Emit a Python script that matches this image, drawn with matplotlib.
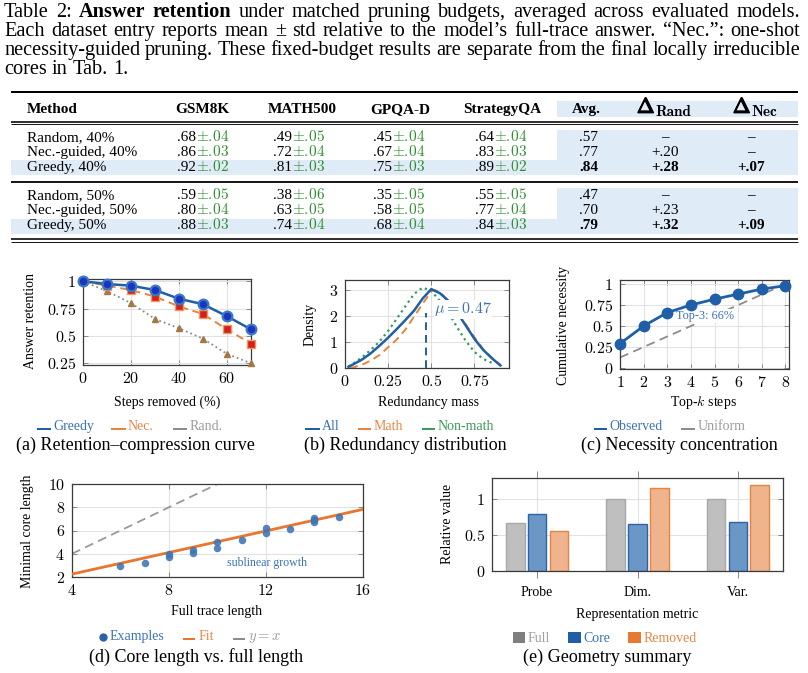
import matplotlib
matplotlib.use('Agg')
import matplotlib.pyplot as plt
from matplotlib.lines import Line2D
from matplotlib.patches import Rectangle
import matplotlib.patheffects as pe

W, H = 808, 673
SERIF = 'Liberation Serif'
plt.rcParams['mathtext.fontset'] = 'cm'
plt.rcParams['font.family'] = [SERIF, 'DejaVu Serif']
plt.rcParams['axes.unicode_minus'] = False

# ---------------- table data ----------------
table_methods = ['Random, 40%', 'Nec.-guided, 40%', 'Greedy, 40%',
                 'Random, 50%', 'Nec.-guided, 50%', 'Greedy, 50%']
table_datasets = ['GSM8K', 'MATH500', 'GPQA-D', 'StrategyQA']
gsm8k_mean = [0.68, 0.86, 0.92, 0.59, 0.80, 0.88]
gsm8k_std = [0.04, 0.03, 0.02, 0.05, 0.04, 0.03]
math500_mean = [0.49, 0.72, 0.81, 0.38, 0.63, 0.74]
math500_std = [0.05, 0.04, 0.03, 0.06, 0.05, 0.04]
gpqa_mean = [0.45, 0.67, 0.75, 0.35, 0.58, 0.68]
gpqa_std = [0.04, 0.04, 0.03, 0.05, 0.05, 0.04]
strategyqa_mean = [0.64, 0.83, 0.89, 0.55, 0.77, 0.84]
strategyqa_std = [0.04, 0.03, 0.02, 0.05, 0.04, 0.03]
avg_vals = [0.57, 0.77, 0.84, 0.47, 0.70, 0.79]
delta_rand = [None, 0.20, 0.28, None, 0.23, 0.32]
delta_nec = [None, None, 0.07, None, None, 0.09]
bold_rows = [False, False, True, False, False, True]

# ---------------- (a) retention curve ----------------
steps_removed = [0, 10, 20, 30, 40, 50, 60, 70]
ret_greedy = [1.00, 0.975, 0.96, 0.92, 0.84, 0.79, 0.68, 0.56]
ret_nec = [1.00, 0.96, 0.92, 0.86, 0.77, 0.70, 0.56, 0.43]
ret_rand = [1.00, 0.91, 0.80, 0.655, 0.57, 0.475, 0.335, 0.25]
a_xticks = [0, 20, 40, 60]
a_yticks = [0.25, 0.5, 0.75, 1.0]
a_yticklabels = ['0.25', '0.5', '0.75', '1']

# ---------------- (b) redundancy distribution ----------------
all_x = [0.02, 0.05, 0.10, 0.15, 0.20, 0.25, 0.30, 0.35, 0.40, 0.45,
         0.50, 0.55, 0.60, 0.65, 0.70, 0.75, 0.80, 0.85, 0.90]
all_y = [0.05, 0.15, 0.33, 0.57, 0.86, 1.17, 1.50, 1.85, 2.21, 2.68,
         3.04, 2.88, 2.58, 2.14, 1.63, 1.12, 0.70, 0.38, 0.10]
math_x = [0.03, 0.05, 0.10, 0.15, 0.20, 0.25, 0.30, 0.35, 0.40, 0.45,
          0.50, 0.52, 0.55, 0.60, 0.65, 0.70, 0.75, 0.80, 0.85, 0.90]
math_y = [0.00, 0.03, 0.13, 0.29, 0.50, 0.80, 1.10, 1.48, 1.98, 2.48,
          2.95, 3.00, 2.92, 2.58, 2.20, 1.68, 1.18, 0.73, 0.40, 0.12]
nonmath_x = [0.02, 0.05, 0.10, 0.15, 0.20, 0.25, 0.30, 0.35, 0.40, 0.45,
             0.50, 0.55, 0.60, 0.65, 0.70, 0.75, 0.80, 0.85]
nonmath_y = [0.05, 0.18, 0.42, 0.70, 1.02, 1.43, 1.90, 2.38, 2.85, 3.10,
             2.97, 2.58, 2.13, 1.56, 1.04, 0.62, 0.35, 0.20]
mu_value = 0.47
mu_line_top = 2.1
b_xticks = [0, 0.25, 0.5, 0.75]
b_xticklabels = ['0', '0.25', '0.5', '0.75']
b_yticks = [0, 1, 2, 3]

# ---------------- (c) necessity concentration ----------------
topk = [1, 2, 3, 4, 5, 6, 7, 8]
cum_observed = [0.29, 0.50, 0.66, 0.75, 0.82, 0.88, 0.94, 0.98]
cum_uniform = [0.125, 0.25, 0.375, 0.50, 0.625, 0.75, 0.875, 1.00]
c_yticks = [0, 0.25, 0.5, 0.75, 1.0]
c_yticklabels = ['0', '0.25', '0.5', '0.75', '1']

# ---------------- (d) core length ----------------
full_len = [6, 7, 8, 8, 9, 9, 10, 10, 11, 12, 12, 13, 14, 14, 14, 15]
core_len = [2.95, 3.2, 4.02, 3.68, 4.31, 4.08, 5.0, 4.5, 5.18, 6.22, 5.81,
            6.1, 7.06, 6.9, 6.71, 7.2]
fit_x = [4, 16]
fit_y = [2.25, 7.82]
ident_x = [4, 10]
ident_y = [4, 10]
d_xticks = [4, 8, 12, 16]
d_yticks = [2, 4, 6, 8, 10]

# ---------------- (e) geometry summary ----------------
geo_metrics = ['Probe', 'Dim.', 'Var.']
geo_full = [0.67, 1.00, 1.00]
geo_core = [0.79, 0.66, 0.69]
geo_removed = [0.555, 1.16, 1.20]
e_yticks = [0, 0.5, 1.0]
e_yticklabels = ['0', '0.5', '1']

# ---------------- colours ----------------
BLUE = '#1f5fa8'
BLUE_T = '#3a72b8'
ORANGE = '#e8843c'
ORANGE_T = '#e8864a'
GRAY = '#8c8c8c'
GRAY_T = '#9b9b9b'
GREEN = '#3a9a5a'
GREEN_T = '#3b9b5b'
TGREEN = '#2f8f2f'
BAND = '#e0ebf8'

fig = plt.figure(figsize=(W / 100, H / 100), dpi=100)
renderer = fig.canvas.get_renderer()


def fx(x):
    return x / W


def fy(y):
    return 1 - y / H


def ftext(x, y, s, **kw):
    kw.setdefault('family', SERIF)
    return fig.text(fx(x), fy(y), s, **kw)


def hline(x0, x1, y, lw_px, color='black'):
    fig.add_artist(Line2D([fx(x0), fx(x1)], [fy(y), fy(y)], transform=fig.transFigure,
                          lw=lw_px / 1.389, color=color, solid_capstyle='butt'))


def rect(x0, y0, x1, y1, color):
    fig.add_artist(Rectangle((fx(x0), fy(y1)), (x1 - x0) / W, (y1 - y0) / H,
                             transform=fig.transFigure, color=color, lw=0, zorder=0))


# ---------------- caption ----------------
def draw_line(tokens, y, x0, x1, size, justify):
    objs = []
    for w, b in tokens:
        objs.append(ftext(0, y, w, fontsize=size, fontweight='bold' if b else 'normal',
                          va='baseline', ha='left'))
    widths = [t.get_window_extent(renderer).width for t in objs]
    if justify:
        gap = (x1 - x0 - sum(widths)) / (len(objs) - 1)
    else:
        gap = size * 1.389 * 0.25
    x = x0
    for t, w in zip(objs, widths):
        t.set_x(fx(x))
        x += w + gap


def toks(s, bold=False):
    return [(w, bold) for w in s.split(' ')]


cap_lines = [
    toks('Table 2:') + toks('Answer retention', True)
    + toks('under matched pruning budgets, averaged across evaluated models.'),
    toks('Each dataset entry reports mean \u00b1 std relative to the model\u2019s full-trace answer. \u201cNec.\u201d: one-shot'),
    toks('necessity-guided pruning. These fixed-budget results are separate from the final locally irreducible'),
    toks('cores in Tab. 1.'),
]
CAP_SIZE = 14.6
for i, ln in enumerate(cap_lines):
    draw_line(ln, 17.3 + 19 * i, 4, 800, CAP_SIZE, i < 3)

# ---------------- table ----------------
rect(557, 101.5, 798, 117, BAND)
rect(557, 130, 798, 160, BAND)
rect(11, 160, 798, 175, BAND)
rect(557, 188, 798, 219, BAND)
rect(11, 219, 798, 234, BAND)
hline(11, 798, 92, 2.0)
hline(11, 798, 121.5, 1.6)
hline(11, 798, 124.2, 0.9)
hline(11, 798, 181.8, 1.8)
hline(11, 798, 238.8, 1.6)
hline(11, 798, 241.5, 0.9)

TS = 11
hdr_y = 113.3
ftext(27, hdr_y, 'Method', fontsize=TS, fontweight='bold', va='baseline', ha='left')
hdr_centers = [202, 302, 400, 502]
for c, name in zip(hdr_centers, table_datasets):
    ftext(c, hdr_y, name, fontsize=TS, fontweight='bold', va='baseline', ha='center')
ftext(586, hdr_y, 'Avg.', fontsize=TS, fontweight='bold', va='baseline', ha='center')
# Delta headers: emboldened CM Delta + bold CM subscript
for dx, sub in [(637, 'Rand'), (733, 'Nec')]:
    ftext(dx, 112.8, r'$\Delta$', fontsize=15, va='baseline', ha='left',
          path_effects=[pe.withStroke(linewidth=1.0, foreground='black')])
    ftext(dx + 18, 115.5, sub, family='cmb10', fontsize=11, va='baseline', ha='left')

row_base = [141, 156, 171, 199, 214.3, 229.3]
split_x = [195.5, 292.5, 392, 494]
means = [gsm8k_mean, math500_mean, gpqa_mean, strategyqa_mean]
stds = [gsm8k_std, math500_std, gpqa_std, strategyqa_std]


def short(v):
    return f'{v:.2f}'[1:]


for i, m_ in enumerate(table_methods):
    y = row_base[i]
    ftext(27, y, m_, fontsize=TS, va='baseline', ha='left')
    for j in range(4):
        ftext(split_x[j], y, short(means[j][i]), fontsize=TS, va='baseline', ha='right')
        ftext(split_x[j], y, r'$\pm.\!' + short(stds[j][i])[1:] + '$', fontsize=TS,
              va='baseline', ha='left', color=TGREEN)
    wt = 'bold' if bold_rows[i] else 'normal'
    ftext(598, y, short(avg_vals[i]), fontsize=TS, va='baseline', ha='right', fontweight=wt)
    dr = '\u2013' if delta_rand[i] is None else '+' + short(delta_rand[i])
    dn = '\u2013' if delta_nec[i] is None else '+' + short(delta_nec[i])
    ftext(665, y, dr, fontsize=TS, va='baseline', ha='center', fontweight=wt)
    ftext(751, y, dn, fontsize=TS, va='baseline', ha='center', fontweight=wt)


# ---------------- axes helpers ----------------
def add_ax(l, t, r, b):
    return fig.add_axes([fx(l), fy(b), (r - l) / W, (b - t) / H])


TICK_SIZE = 11.5


def style(ax):
    for s in ax.spines.values():
        s.set_color('#3a3a3a')
        s.set_linewidth(0.9)
    ax.grid(True, color='#e2e2e2', lw=0.8)
    ax.set_axisbelow(True)
    ax.tick_params(direction='in', length=3.5, width=0.7, color='#888888',
                   top=True, right=True, labelsize=TICK_SIZE)
    ax.tick_params(axis='x', pad=4.5)
    ax.tick_params(axis='y', pad=5)


def m(labels):
    return ['$' + str(s) + '$' for s in labels]


def leg_line(x0, x1, y, color, lw_px=2.0):
    hline(x0, x1, y, lw_px, color)


def leg_text(x, y, s, color, size=10):
    ftext(x, y, s, color=color, fontsize=size, va='baseline', ha='left')


LBL = 10
SUB = 13

# ---------------- (a) ----------------
ax = add_ax(83, 279, 251, 365)
style(ax)
ax.plot(steps_removed, ret_rand, ':', color=GRAY, lw=1.3, marker='^', ms=5,
        mfc='#a57845', mec='#a57845', clip_on=False, zorder=3)
ax.plot(steps_removed, ret_nec, color=ORANGE, lw=1.4, dashes=(4, 2.5), marker='s', ms=5.5,
        mfc='#d41f1f', mec='#ef9a5c', mew=1.0, clip_on=False, zorder=4)
ax.plot(steps_removed, ret_greedy, '-', color=BLUE, lw=1.8, marker='o', ms=7,
        mfc='#1a35c0', mec='#3b78c4', mew=1.6, clip_on=False, zorder=5)
ax.set_xlim(0, 70)
ax.set_ylim(0.234, 1.021)
ax.set_xticks(a_xticks, m(a_xticks))
ax.set_yticks(a_yticks, m(a_yticklabels))
ftext(167, 406, 'Steps removed (%)', fontsize=LBL, ha='center', va='baseline')
ftext(30, 321, 'Answer retention', fontsize=LBL, ha='center', va='center', rotation=90)
leg_line(37, 51, 429, BLUE); leg_text(53, 430, 'Greedy', BLUE_T)
leg_line(111, 126, 429, ORANGE); leg_text(128, 430, 'Nec.', ORANGE_T)
leg_line(173, 187, 429, GRAY); leg_text(190, 430, 'Rand.', GRAY_T)
ftext(135, 450, '(a) Retention\u2013compression curve', fontsize=SUB, ha='center', va='baseline')

# ---------------- (b) ----------------
ax = add_ax(345, 279.5, 508.5, 368)
style(ax)
ax.plot(nonmath_x, nonmath_y, ':', color=GREEN, lw=1.6, zorder=2)
ax.plot(math_x, math_y, color=ORANGE, lw=1.4, dashes=(4, 2.5), zorder=2)
ax.plot(all_x, all_y, '-', color=BLUE, lw=1.8, zorder=3)
ax.plot([mu_value, mu_value], [0, mu_line_top], color=BLUE, lw=1.4, dashes=(4, 2.5), zorder=3)
ax.text(mu_value + 0.045, 2.26, r'$\mu = %.2f$' % mu_value, color=BLUE_T, fontsize=11.5,
        ha='left', va='center', zorder=5, bbox=dict(fc='white', ec='none', pad=0.2))
ax.set_xlim(0, 0.947)
ax.set_ylim(0, 3.41)
ax.set_xticks(b_xticks, m(b_xticklabels))
ax.set_yticks(b_yticks, m(b_yticks))
ftext(428, 406, 'Redundancy mass', fontsize=LBL, ha='center', va='baseline')
ftext(310, 324, 'Density', fontsize=LBL, ha='center', va='center', rotation=90)
leg_line(305, 320, 429, BLUE); leg_text(322, 430, 'All', BLUE_T)
leg_line(358, 371, 429, ORANGE); leg_text(374, 430, 'Math', ORANGE_T)
leg_line(422, 435, 429, GREEN); leg_text(438, 430, 'Non-math', GREEN_T)
ftext(405, 450, '(b) Redundancy distribution', fontsize=SUB, ha='center', va='baseline')

# ---------------- (c) ----------------
ax = add_ax(620, 280, 789, 369)
style(ax)
ax.plot(topk, cum_uniform, color=GRAY, lw=1.3, dashes=(5, 3))
ax.plot(topk, cum_observed, '-', color=BLUE, lw=2.0, marker='o', ms=7.5, clip_on=False, zorder=4)
ax.text(3.36, 0.62, 'Top-3: 66%', color=BLUE_T, fontsize=8.8, family=SERIF, ha='left', va='center',
        bbox=dict(fc='white', ec='none', pad=0.5))
ax.set_xlim(1, 8.15)
ax.set_ylim(-0.012, 1.048)
ax.set_xticks(topk, m(topk))
ax.set_yticks(c_yticks, m(c_yticklabels))
ftext(703, 406, 'Top-$k$ steps', fontsize=LBL, ha='center', va='baseline')
ftext(563, 325, 'Cumulative necessity', fontsize=LBL, ha='center', va='center', rotation=90)
leg_line(594, 607, 429, BLUE); leg_text(609, 430, 'Observed', BLUE_T)
leg_line(681, 695, 429, GRAY); leg_text(698, 430, 'Uniform', GRAY_T)
ftext(679, 450, '(c) Necessity concentration', fontsize=SUB, ha='center', va='baseline')

# ---------------- (d) ----------------
ax = add_ax(72, 484, 363, 577)
style(ax)
ax.plot(ident_x, ident_y, color='#999999', lw=1.3, dashes=(5, 3))
ax.plot(fit_x, fit_y, '-', color='#e8762d', lw=2.0, zorder=3)
ax.plot(full_len, core_len, 'o', color='#3d74b5', alpha=0.88, ms=5.4, mew=0, zorder=4)
ax.text(12.05, 3.2, 'sublinear growth', color=BLUE_T, fontsize=8.6, family=SERIF,
        ha='center', va='center')
ax.set_xlim(4, 16)
ax.set_ylim(2, 10)
ax.set_xticks(d_xticks, m(d_xticks))
ax.set_yticks(d_yticks, m(d_yticks))
ftext(217, 615, 'Full trace length', fontsize=LBL, ha='center', va='baseline')
ftext(28, 531, 'Minimal core length', fontsize=LBL, ha='center', va='center', rotation=90)
fig.add_artist(Line2D([fx(103)], [fy(637)], transform=fig.transFigure, marker='o', ms=5,
                      color='#2a62aa', lw=0))
leg_text(110, 640, 'Examples', BLUE_T)
leg_line(183, 195, 639, '#e8762d'); leg_text(199, 640, 'Fit', ORANGE_T)
leg_line(233, 245, 639, GRAY); leg_text(248, 640, '$y = x$', GRAY_T, size=10.5)
ftext(196, 662, '(d) Core length vs. full length', fontsize=SUB, ha='center', va='baseline')

# ---------------- (e) ----------------
ax = add_ax(492, 478, 783, 571)
for s in ax.spines.values():
    s.set_color('#3a3a3a')
    s.set_linewidth(0.9)
ax.grid(True, color='#e2e2e2', lw=0.8)
ax.set_axisbelow(True)
xs = list(range(len(geo_metrics)))
bw, off = 0.185, 0.218
ax.bar([x - off for x in xs], geo_full, bw, color='#bfbfbf', edgecolor='#a8a8a8', lw=1.0)
ax.bar(xs, geo_core, bw, color='#6b97c6', edgecolor='#2b62a8', lw=1.0)
ax.bar([x + off for x in xs], geo_removed, bw, color='#efb48d', edgecolor='#e8843c', lw=1.0)
ax.set_xlim(-0.45, 2.45)
ax.set_ylim(0, 1.3)
ax.set_xticks(xs, geo_metrics, fontsize=10, family=SERIF)
ax.set_yticks(e_yticks, m(e_yticklabels))
ax.tick_params(axis='x', direction='out', length=5, width=0.7, color='#888888', top=True, pad=6)
ax.tick_params(axis='y', direction='in', length=3.5, width=0.7, color='#888888', right=True,
               labelsize=TICK_SIZE, pad=5)
ftext(637, 618, 'Representation metric', fontsize=LBL, ha='center', va='baseline')
ftext(447, 524, 'Relative value', fontsize=LBL, ha='center', va='center', rotation=90)
rect(513, 632, 525, 643, '#7f7f7f'); leg_text(528, 642, 'Full', '#a0a0a0')
rect(568, 632, 581, 643, '#1f5fa8'); leg_text(583, 642, 'Core', BLUE_T)
rect(628, 632, 641, 643, '#e67a35'); leg_text(644, 642, 'Removed', ORANGE_T)
ftext(607, 662, '(e) Geometry summary', fontsize=SUB, ha='center', va='baseline')

fig.savefig('out.png', dpi=100, facecolor='white')
